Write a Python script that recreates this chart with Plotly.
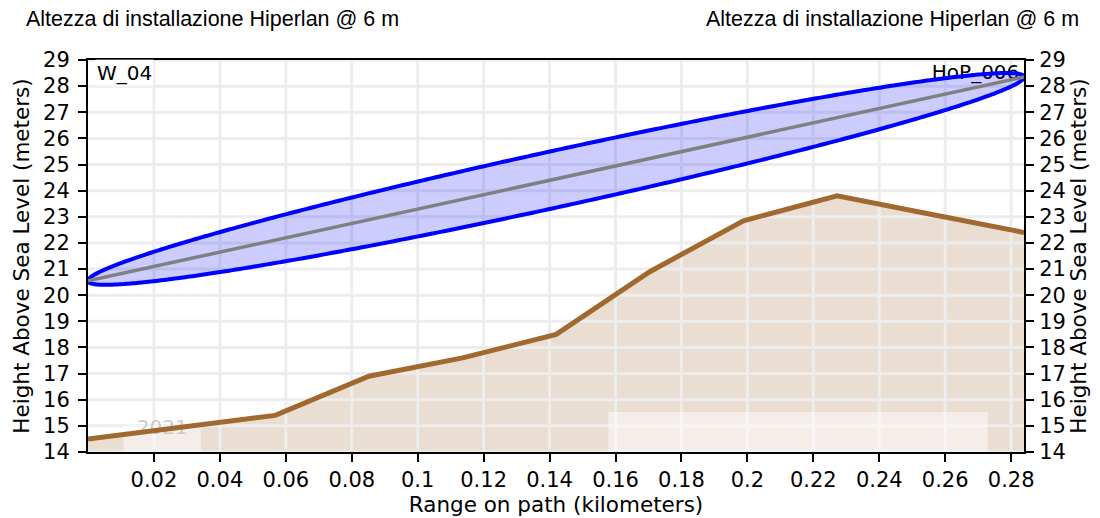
import numpy as np
import plotly.graph_objects as go

# Terrain profile along the path
range_km = [0.0, 0.0284, 0.0568, 0.0852, 0.1136, 0.1420, 0.1704, 0.1988, 0.2272, 0.2556, 0.2839]
terrain_m = [14.5, 14.95, 15.4, 16.9, 17.6, 18.5, 20.9, 22.85, 23.8, 23.1, 22.4]

# Antenna heights at both ends (line of sight) and Fresnel half-width
los_start_m = 20.55
los_end_m = 28.35
fresnel_halfwidth_m = 1.1

site_left = "W_04"
site_right = "HoP_006"
title_text = "Altezza di installazione Hiperlan @ 6 m"

x_ticks = [0.02, 0.04, 0.06, 0.08, 0.1, 0.12, 0.14, 0.16, 0.18, 0.2, 0.22, 0.24, 0.26, 0.28]
x_ticktext = ["0.02", "0.04", "0.06", "0.08", "0.1", "0.12", "0.14", "0.16", "0.18", "0.2", "0.22", "0.24", "0.26", "0.28"]
y_ticks = list(range(14, 30))

# Faded overlay panels near the bottom of the plot
overlay_x = [[0.0108, 0.0342], [0.1578, 0.2729]]
overlay_y = [[14.0, 15.03], [14.0, 15.53]]
stamp_text = "2021"
stamp_y = 14.88

x_max = range_km[-1]
y_min, y_max = 14, 29

TERRAIN = "#a0692f"
TERRAIN_FILL = "rgba(170,120,70,0.25)"
GRID = "#ededed"
FONT = "DejaVu Sans"
TICKFONT = dict(family=FONT, size=21, color="black")
TITLEFONT = dict(family=FONT, size=21.5, color="black")

L, R, T, B = 88, 76, 60, 66
W, H = 1100, 518

fig = go.Figure()

# Ground fill
fig.add_trace(go.Scatter(x=range_km, y=terrain_m, mode="lines", line=dict(width=0),
                         fill="tozeroy", fillcolor=TERRAIN_FILL, hoverinfo="skip"))

# Grid drawn above the ground fill
gx, gy = [], []
for xv in x_ticks:
    gx += [xv, xv, None]
    gy += [y_min, y_max, None]
for yv in y_ticks:
    gx += [0, x_max, None]
    gy += [yv, yv, None]
fig.add_trace(go.Scatter(x=gx, y=gy, mode="lines", line=dict(color=GRID, width=3),
                         hoverinfo="skip"))

# Faded panels
for xs, ys in zip(overlay_x, overlay_y):
    fig.add_trace(go.Scatter(x=[xs[0], xs[1], xs[1], xs[0], xs[0]],
                             y=[ys[0], ys[0], ys[1], ys[1], ys[0]],
                             mode="lines", line=dict(width=0), fill="toself",
                             fillcolor="rgba(255,255,255,0.5)", hoverinfo="skip"))
fig.add_trace(go.Scatter(x=[sum(overlay_x[0]) / 2], y=[stamp_y], mode="text",
                         text=[stamp_text], textposition="middle center",
                         textfont=dict(family=FONT, size=20, color="rgba(190,190,190,0.8)"),
                         hoverinfo="skip"))

# Ground profile line
fig.add_trace(go.Scatter(x=range_km, y=terrain_m, mode="lines",
                         line=dict(color=TERRAIN, width=5), hoverinfo="skip"))

# Right site label (sits under the Fresnel outline)
fig.add_trace(go.Scatter(x=[x_max * 0.995], y=[28.45], mode="text", text=[site_right],
                         textposition="middle left",
                         textfont=dict(family=FONT, size=20, color="black"),
                         hoverinfo="skip"))

# Fresnel zone ellipse around the line of sight
theta = np.linspace(0, 2 * np.pi, 600)
ex = x_max / 2 - x_max / 2 * np.cos(theta)
ey = los_start_m + (los_end_m - los_start_m) * ex / x_max + fresnel_halfwidth_m * np.sin(theta)
fig.add_trace(go.Scatter(x=ex, y=ey, mode="lines", fill="toself",
                         fillcolor="rgba(0,0,255,0.2)",
                         line=dict(color="#0000ff", width=4, simplify=False),
                         hoverinfo="skip", cliponaxis=False))

# Line of sight
fig.add_trace(go.Scatter(x=[0, x_max], y=[los_start_m, los_end_m], mode="lines",
                         line=dict(color="#808080", width=3.5), hoverinfo="skip"))

# Right-hand y axis carrier
fig.add_trace(go.Scatter(x=[0], y=[y_min], yaxis="y2", mode="markers",
                         marker=dict(opacity=0), hoverinfo="skip"))

# Left site label
fig.add_annotation(x=0.002, y=y_max, xref="x", yref="y", text=site_left, showarrow=False,
                   xanchor="left", yanchor="top", yshift=1,
                   font=dict(family=FONT, size=20, color="black"),
                   bgcolor="rgba(255,255,255,0.7)", borderpad=1)

# Titles above both ends
for px, anchor in [(24, "left"), (1081, "right")]:
    fig.add_annotation(x=(px - L) / (W - L - R), y=1, xref="paper", yref="paper",
                       yshift=41, text=title_text, showarrow=False, xanchor=anchor,
                       yanchor="middle",
                       font=dict(family="Liberation Sans, Arial", size=21.5, color="black"))

axis_common = dict(showgrid=False, zeroline=False, showline=True, linecolor="black",
                   linewidth=2, ticks="outside", ticklen=8, tickwidth=1.5, tickcolor="black",
                   tickfont=TICKFONT, automargin=False)

fig.update_layout(
    width=W, height=H,
    margin=dict(l=L, r=R, t=T, b=B),
    plot_bgcolor="white", paper_bgcolor="white",
    showlegend=False,
    xaxis=dict(range=[0, x_max], tickvals=x_ticks, ticktext=x_ticktext, mirror=True,
               title=dict(text="Range on path (kilometers)", standoff=6, font=TITLEFONT),
               **axis_common),
    yaxis=dict(range=[y_min, y_max], tickvals=y_ticks, ticklabelstandoff=4,
               title=dict(text="Height Above Sea Level (meters)", standoff=8, font=TITLEFONT),
               **axis_common),
    yaxis2=dict(range=[y_min, y_max], tickvals=y_ticks, overlaying="y", side="right",
                ticklabelstandoff=1,
                title=dict(text="Height Above Sea Level (meters)", standoff=6, font=TITLEFONT),
                **axis_common),
)

fig.write_html("out.html")
